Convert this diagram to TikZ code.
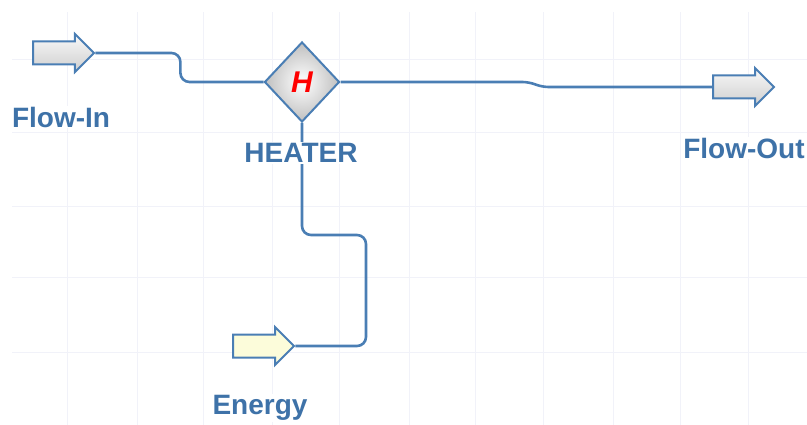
\documentclass[tikz,border=0pt]{standalone}
\usepackage{fontspec}
\setmainfont{Liberation Sans}
\usetikzlibrary{shapes.geometric,shapes.arrows}
\definecolor{streamblue}{RGB}{74,126,180}
\definecolor{labelblue}{RGB}{62,114,168}
\definecolor{gridgray}{RGB}{241,242,249}
\definecolor{energyfill}{RGB}{252,252,218}

\begin{document}
\begin{tikzpicture}[x=1pt,y=-1pt,
	flow/.style={draw=streamblue, line width=2.6pt, rounded corners=9pt},
	port/.style={single arrow, draw=streamblue, line width=2pt, inner sep=0pt, inner ysep=10.5pt,
		minimum height=61pt, single arrow head extend=7.5pt, top color=gray!5, bottom color=gray!38},
	unit/.style={diamond, draw=streamblue, line width=2pt, minimum width=75pt, minimum height=80pt,
		inner sep=0pt, inner color=white, outer color=gray!50, text=red,
		font=\bfseries\itshape\fontsize{30}{32}\selectfont},
	tag/.style={text=labelblue, font=\bfseries\fontsize{28}{30}\selectfont, inner sep=1pt, fill=white}]
	\useasboundingbox (0,0) rectangle (807,425);
	% background grid
	\foreach \gx in {67,137,203,272,339,409,475,543,613,680,748} {\draw[gridgray, line width=1pt] (\gx,12) -- (\gx,425);}
	\foreach \gy in {60,133,207,278,352} {\draw[gridgray, line width=1pt] (12,\gy) -- (807,\gy);}
	% blocks
	\node[port, anchor=tail] (fin) at (32,53) {};
	\node[unit] (heater) at (302,82) {H};
	\node[port, anchor=tail] (fout) at (712,87) {};
	\node[port, anchor=tail, top color=energyfill, bottom color=energyfill] (energy) at (232,346) {};
	% streams
	\draw[flow] (fin.tip) -- ++(85,0) |- (heater.west);
	\draw[flow, rounded corners=6pt] (heater.east) -- ++(188,0) -- ++(14,5) -- (fout.tail);
	\draw[flow] (heater.south) -- ++(0,112) -- ++(64,0) |- (energy.tip);
	% labels
	\node[tag] (lblin) at (61,117) {Flow-In};
	\node[tag] (lblheater) at (301,153) {HEATER};
	\node[tag] (lblout) at (744,148) {Flow-Out};
	\node[tag] (lblenergy) at (260,408) {Energy};
\end{tikzpicture}
\end{document}
